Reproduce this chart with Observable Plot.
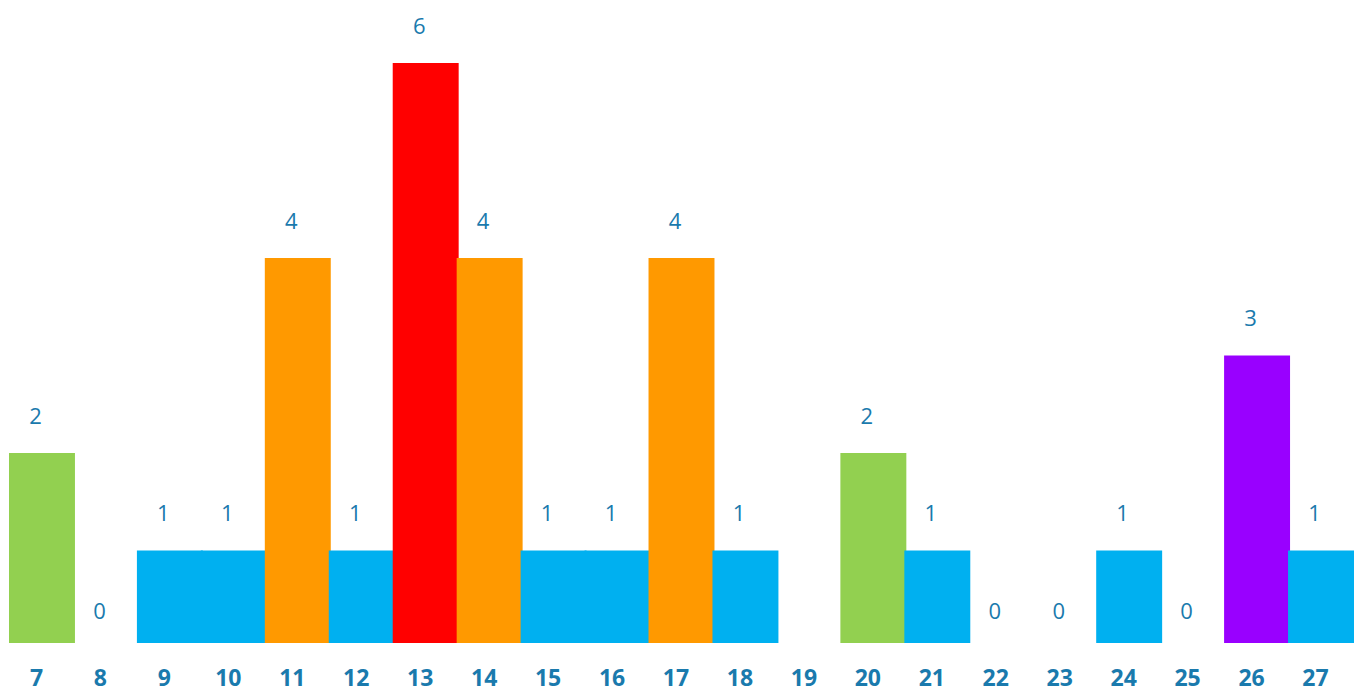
<!DOCTYPE html>
<html>
<head>
<meta charset="utf-8">
<script src="https://cdn.jsdelivr.net/npm/d3@7"></script>
<script src="https://cdn.jsdelivr.net/npm/@observablehq/plot@0.6"></script>
<style>
  html, body { margin: 0; padding: 0; background: #fff; }
  #chart svg { display: block; }
</style>
</head>
<body>
<div id="chart"></div>
<script>
const categories = ["7","8","9","10","11","12","13","14","15","16","17","18","19","20","21","22","23","24","25","26","27"];
const values = [2, 0, 1, 1, 4, 1, 6, 4, 1, 1, 4, 1, null, 2, 1, 0, 0, 1, 0, 3, 1];
const barColors = ["#92d050","#00b0f0","#00b0f0","#00b0f0","#ff9900","#00b0f0","#ff0000","#ff9900","#00b0f0","#00b0f0","#ff9900","#00b0f0","#00b0f0","#92d050","#00b0f0","#00b0f0","#00b0f0","#00b0f0","#00b0f0","#9900ff","#00b0f0"];

const data = categories.map((c, i) => ({cat: c, value: values[i], color: barColors[i]}));
const labelColor = "#1a7aad";

const chart = Plot.plot({
  width: 1358,
  height: 693,
  marginLeft: 10,
  marginRight: 5,
  marginTop: 63,
  marginBottom: 45,
  style: {fontFamily: "'Open Sans', sans-serif", background: "#fff"},
  x: {domain: categories, padding: 0, round: false, label: null},
  y: {domain: [0, 6], axis: null},
  marks: [
    Plot.barY(data.filter(d => d.value != null && d.value > 0), {
      x: "cat", y: "value", fill: d => d.color,
      insetLeft: -1, insetRight: -1, insetBottom: 5
    }),
    Plot.text(data.filter(d => d.value != null), {
      x: "cat", y: "value", text: d => String(d.value),
      dy: -37, dx: -7, fill: labelColor, fontSize: 22
    }),
    Plot.axisX({
      tickSize: 0, tickPadding: 21, fontSize: 23, fontWeight: "bold",
      fill: labelColor, dx: -6, label: null
    })
  ]
});
document.getElementById("chart").append(chart);
</script>
</body>
</html>
